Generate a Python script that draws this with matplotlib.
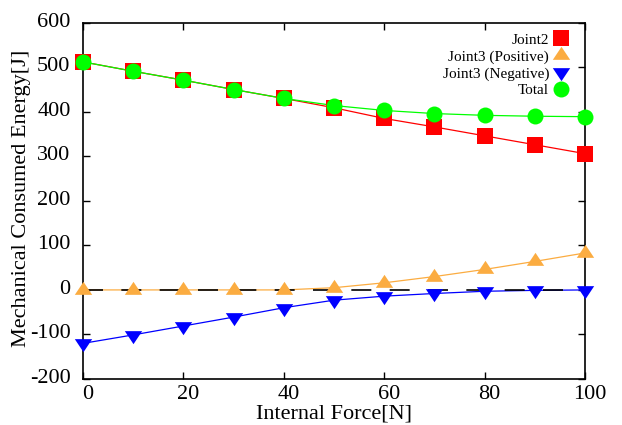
import numpy as np
import matplotlib.pyplot as plt
import matplotlib.transforms as mtransforms
from matplotlib.lines import Line2D
from matplotlib.path import Path

plt.rcParams['font.family'] = ['Liberation Serif', 'DejaVu Serif']
plt.rcParams['axes.unicode_minus'] = False

# internal force [N]
force = [0, 10, 20, 30, 40, 50, 60, 70, 80, 90, 100]
# consumed energy [J]
joint2 = [512, 491, 471, 450, 430, 409, 385, 366, 346, 326, 306]
joint3_pos = [0, 0, 0, 0, 0, 5, 16, 30, 46, 64, 83]
joint3_neg = [-120, -101, -81, -61, -40, -23, -14, -8, -3, -1, 0]
total = [512, 491, 471, 450, 430, 414, 403, 396, 392, 390, 389]

labels = ['Joint2', 'Joint3 (Positive)', 'Joint3 (Negative)', 'Total']
colors = ['#ff0000', '#fbac41', '#0000ff', '#00ff00']

# triangles centred on their centroid, like gnuplot draws them
tri_up = Path([(0, 1), (-1, -0.5), (1, -0.5), (0, 1)],
              [Path.MOVETO, Path.LINETO, Path.LINETO, Path.CLOSEPOLY])
tri_down = Path([(0, -1), (-1, 0.5), (1, 0.5), (0, -1)],
                [Path.MOVETO, Path.LINETO, Path.LINETO, Path.CLOSEPOLY])
markers = ['s', tri_up, tri_down, 'o']
msizes = [11.5, 12.5, 12.5, 11.5]

fig = plt.figure(figsize=(6.22, 4.25), dpi=100)
ax = fig.add_axes([83 / 622, 1 - 379 / 425, 502 / 622, 356.3 / 425])

series = [joint2, joint3_pos, joint3_neg, total]
for vals, c in zip(series, colors):
    ax.plot(force, vals, color=c, lw=0.9, zorder=2)

# zero line goes over the thin lines but under the points
ax.axhline(0, color='black', lw=1.2, dashes=(12, 11), zorder=2.5)

for vals, c, m, ms in zip(series, colors, markers, msizes):
    ax.plot(force, vals, ls='none', color=c, marker=m, ms=ms,
            markeredgewidth=0, clip_on=False, zorder=3)

ax.set_xlim(0, 100)
ax.set_ylim(-200, 600)
ax.set_xticks(np.arange(0, 101, 20))
ax.set_yticks(np.arange(-200, 601, 100))
ax.tick_params(direction='in', length=5, width=1, top=True, right=True,
               labelsize=16)
ax.tick_params(axis='x', pad=4)
ax.tick_params(axis='y', pad=9)
for s in ax.spines.values():
    s.set_linewidth(1.2)

xoff = mtransforms.ScaledTranslation(5 / 100, 0, fig.dpi_scale_trans)
for lab in ax.get_xticklabels():
    lab.set_transform(lab.get_transform() + xoff)
yoff = mtransforms.ScaledTranslation(0, 3 / 100, fig.dpi_scale_trans)
for lab in ax.get_yticklabels():
    lab.set_transform(lab.get_transform() + yoff)

fig.text(334 / 622, 1 - 414 / 425, 'Internal Force[N]', fontsize=16,
         ha='center', va='center')
fig.text(22 / 622, 1 - 198 / 425, 'Mechanical Consumed Energy[J]',
         fontsize=16, rotation=90, ha='center', va='center')

handles = [Line2D([], [], ls='none', color=c, marker=m, ms=ms,
                  markeredgewidth=0)
           for c, m, ms in zip(colors, markers, msizes)]
ax.legend(handles, labels, loc='upper right', markerfirst=False,
          frameon=False, fontsize=11, handlelength=1.0,
          handletextpad=0.3, labelspacing=0.2, borderaxespad=0,
          bbox_to_anchor=(575 / 622, 1 - 27 / 425),
          bbox_transform=fig.transFigure)

fig.savefig('out.png', dpi=100)
